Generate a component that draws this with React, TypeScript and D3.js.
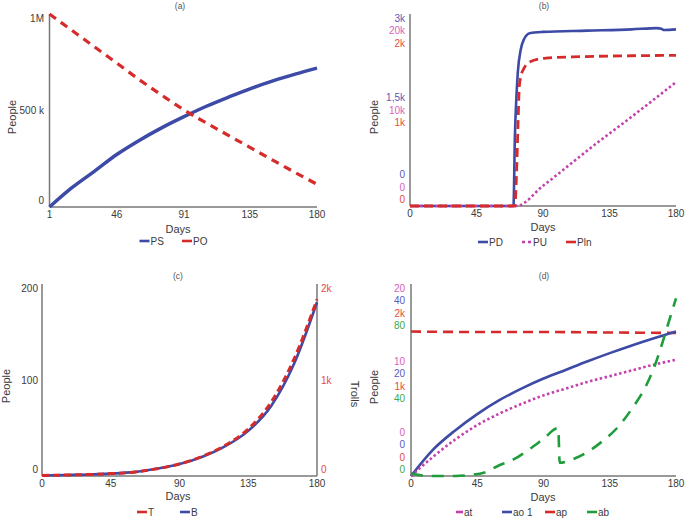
import React from "react";
import * as d3 from "d3";

const FONT = "'Liberation Sans', Arial, sans-serif";
const BLUE = "#3d4aa6";
const RED = "#d62b2b";
const MAG = "#c340ad";
const GRN = "#1f9c3c";
const LBLUE = "#5a5ab8";
const LMAG = "#d563bd";
const LRED = "#e8493c";
const LGRN = "#3ba84c";
const AXIS = "#777";
const TXT = "#3a3a3a";

// ---------- Panel (a) ----------
const aDays = [1, 16, 31, 46, 61, 76, 91, 106, 121, 136, 151, 166, 180];
const aPS = [0, 100000, 185000, 272000, 345000, 410000, 468000, 522000, 570000, 615000, 655000, 690000, 720000];
const aPO = [1000000, 915000, 830000, 746000, 660000, 580000, 503000, 435000, 370000, 305000, 240000, 176000, 118000];
const aXTicks = [1, 46, 91, 135, 180];
const aYTicks = [0, 500000, 1000000];
const aYLabels = ["0", "500 k", "1M"];

// ---------- Panel (b) ----------
const bPDDays = [0, 70, 71, 72, 73, 75, 77, 81, 90, 120, 150, 167, 170, 172, 180];
const bPD = [0, 0, 1100, 1700, 2100, 2450, 2600, 2700, 2720, 2740, 2760, 2780, 2770, 2750, 2760];
const bPUDays = [0, 72, 90, 126, 150, 180];
const bPU = [0, 0, 2100, 6500, 9300, 12900];
const bPlnDays = [0, 71, 72, 73, 74, 75, 77, 81, 92, 115, 150, 180];
const bPln = [0, 0, 300, 800, 1250, 1350, 1430, 1500, 1540, 1555, 1565, 1570];
const bXTicks = [0, 45, 90, 135, 180];
const bPDTicks = [0, 1500, 3000];
const bPUTicks = [0, 10000, 20000];
const bPlnTicks = [0, 1000, 2000];
const bPDLabels = ["0", "1,5k", "3k"];
const bPULabels = ["0", "10k", "20k"];
const bPlnLabels = ["0", "1k", "2k"];

// ---------- Panel (c) ----------
const cDays = [0, 15, 30, 45, 60, 75, 90, 105, 120, 135, 150, 165, 180];
const cB = [0.5, 1, 1.5, 2.5, 4, 7.5, 12.5, 20, 31, 47, 73, 117, 181];
const cT = [5, 10, 15, 25, 40, 75, 125, 205, 320, 490, 770, 1220, 1840];
const cXTicks = [0, 45, 90, 135, 180];
const cLTicks = [0, 100, 200];
const cLLabels = ["0", "100", "200"];
const cRTicks = [0, 1000, 2000];
const cRLabels = ["0", "1k", "2k"];

// ---------- Panel (d) ----------
const dDays = [0, 15, 30, 45, 60, 75, 90, 105, 120, 135, 150, 165, 180];
const dAt = [0, 2.0, 3.8, 5.3, 6.5, 7.5, 8.4, 9.1, 9.8, 10.4, 11.0, 11.6, 12.1];
const dAo1 = [0, 5.5, 9.5, 12.9, 15.8, 18.2, 20.3, 22.1, 23.9, 25.6, 27.2, 28.7, 30.1];
const dApDays = [0, 45, 90, 135, 180];
const dAp = [1505, 1500, 1500, 1495, 1490];
const dAbDays = [0, 5, 10, 20, 30, 40, 50, 60, 70, 80, 90, 100, 101, 110, 120, 130, 140, 150, 160, 165, 170, 175, 180];
const dAb = [1, 0.5, 0, 0, 0, 0.4, 1.5, 4.5, 7, 11, 15.5, 20, 5.5, 7, 10, 14.5, 20, 28, 38, 45, 54, 64, 74];
const dXTicks = [0, 45, 90, 135, 180];
const dAtTicks = [0, 10, 20];
const dAoTicks = [0, 20, 40];
const dApTicks = [0, 1000, 2000];
const dAbTicks = [0, 40, 80];
const dAtLabels = ["0", "10", "20"];
const dAoLabels = ["0", "20", "40"];
const dApLabels = ["0", "1k", "2k"];
const dAbLabels = ["0", "40", "80"];

type Scale = d3.ScaleLinear<number, number>;

function path(xs: number[], ys: number[], x: Scale, y: Scale) {
  return d3
    .line<number>()
    .x((_, i) => x(xs[i]))
    .y((d) => y(d))
    .curve(d3.curveMonotoneX)(ys) || "";
}

const STEP = 12.3;
const TICK_FS = 10;
const LAB_FS = 11;

function StackTicks(props: {
  scales: Scale[];
  ticks: number[][];
  labels: string[][];
  colors: string[];
  x: number;
  anchor: "start" | "end";
  id: string;
}) {
  const { scales, ticks, labels, colors, x, anchor, id } = props;
  const n = scales.length;
  const out: React.ReactNode[] = [];
  for (let lvl = 0; lvl < 3; lvl++) {
    for (let k = 0; k < n; k++) {
      const p = scales[k](ticks[k][lvl]);
      let c: number;
      if (lvl === 0) c = p - 6.5 - (n - 1 - k) * STEP;
      else if (lvl === 2) c = p + 4.5 + k * STEP;
      else c = p + (k - (n - 1) / 2) * STEP;
      out.push(
        <text
          key={`${id}-${lvl}-${k}`}
          x={x}
          y={c}
          dy="0.35em"
          textAnchor={anchor}
          fill={colors[k]}
          fontSize={TICK_FS}
        >
          {labels[k][lvl]}
        </text>
      );
    }
  }
  return <g>{out}</g>;
}

function XTicks({ x, ticks, y0 }: { x: Scale; ticks: number[]; y0: number }) {
  return (
    <g>
      {ticks.map((t) => (
        <text key={t} x={x(t)} y={y0 + 7} dy="0.35em" textAnchor="middle" fill={TXT} fontSize={TICK_FS}>
          {t}
        </text>
      ))}
    </g>
  );
}

type LegItem = { label: string; color: string; x: number; dash?: string; len?: number };

function Legend({ items, y }: { items: LegItem[]; y: number }) {
  return (
    <g>
      {items.map((it) => (
        <g key={it.label}>
          <line
            x1={it.x}
            x2={it.x + (it.len ?? 10)}
            y1={y}
            y2={y}
            stroke={it.color}
            strokeWidth={2.6}
            strokeDasharray={it.dash}
          />
          <text x={it.x + (it.len ?? 10) + 1} y={y} dy="0.35em" fill={TXT} fontSize={TICK_FS}>
            {it.label}
          </text>
        </g>
      ))}
    </g>
  );
}

function VLabel({ x, y, text, rot = -90 }: { x: number; y: number; text: string; rot?: number }) {
  return (
    <text
      transform={`translate(${x},${y}) rotate(${rot})`}
      textAnchor="middle"
      dy="0.35em"
      fill={TXT}
      fontSize={LAB_FS}
    >
      {text}
    </text>
  );
}

function Title({ x, y, text }: { x: number; y: number; text: string }) {
  return (
    <text x={x} y={y} dy="0.35em" textAnchor="middle" fill="#555" fontSize={8.5}>
      {text}
    </text>
  );
}

export default function App() {
  // (a)
  const xa = d3.scaleLinear().domain([1, 180]).range([49.5, 317]);
  const ya = d3.scaleLinear().domain([0, 1000000]).range([207, 14]);
  // (b)
  const xb = d3.scaleLinear().domain([0, 180]).range([410, 676]);
  const ybD = d3.scaleLinear().domain([0, 3000]).range([206, 14]);
  const ybU = d3.scaleLinear().domain([0, 20000]).range([206, 14]);
  const ybI = d3.scaleLinear().domain([0, 2000]).range([206, 14]);
  // (c)
  const xc = d3.scaleLinear().domain([0, 180]).range([42, 317]);
  const ycL = d3.scaleLinear().domain([0, 200]).range([476, 284]);
  const ycR = d3.scaleLinear().domain([0, 2000]).range([476, 284]);
  // (d)
  const xd = d3.scaleLinear().domain([0, 180]).range([411, 676]);
  const ydAt = d3.scaleLinear().domain([0, 20]).range([476, 284]);
  const ydAo = d3.scaleLinear().domain([0, 40]).range([476, 284]);
  const ydAp = d3.scaleLinear().domain([0, 2000]).range([476, 284]);
  const ydAb = d3.scaleLinear().domain([0, 80]).range([476, 284]);

  return (
    <svg
      width={685}
      height={518}
      style={{ position: "absolute", left: 0, top: 0, background: "#fff", fontFamily: FONT }}
    >
      <rect width={685} height={518} fill="#fff" />

      {/* ---------------- (a) ---------------- */}
      <Title x={180} y={6} text="(a)" />
      <line x1={xa(1)} x2={xa(1)} y1={14} y2={207} stroke={AXIS} strokeWidth={1.5} />
      <line x1={xa(1)} x2={xa(180)} y1={207} y2={207} stroke={AXIS} strokeWidth={1.5} />
      <StackTicks id="a" scales={[ya]} ticks={[aYTicks]} labels={[aYLabels]} colors={[TXT]} x={44} anchor="end" />
      <XTicks x={xa} ticks={aXTicks} y0={207} />
      <path d={path(aDays, aPS, xa, ya)} fill="none" stroke={BLUE} strokeWidth={3.5} />
      <path d={path(aDays, aPO, xa, ya)} fill="none" stroke={RED} strokeWidth={3.2} strokeDasharray="8 6" />
      <VLabel x={12} y={117} text="People" />
      <text x={178} y={229} dy="0.35em" textAnchor="middle" fill={TXT} fontSize={LAB_FS}>Days</text>
      <Legend
        y={241}
        items={[
          { label: "PS", color: BLUE, x: 139.5 },
          { label: "PO", color: RED, x: 182 },
        ]}
      />

      {/* ---------------- (b) ---------------- */}
      <Title x={544} y={6} text="(b)" />
      <line x1={410} x2={410} y1={14} y2={206} stroke={AXIS} strokeWidth={1.5} />
      <line x1={410} x2={676} y1={206} y2={206} stroke={AXIS} strokeWidth={1.5} />
      <StackTicks
        id="b"
        scales={[ybD, ybU, ybI]}
        ticks={[bPDTicks, bPUTicks, bPlnTicks]}
        labels={[bPDLabels, bPULabels, bPlnLabels]}
        colors={[LBLUE, LMAG, LRED]}
        x={405}
        anchor="end"
      />
      <XTicks x={xb} ticks={bXTicks} y0={206} />
      <path d={path(bPDDays, bPD, xb, ybD)} fill="none" stroke={BLUE} strokeWidth={2.6} />
      <path d={path(bPUDays, bPU, xb, ybU)} fill="none" stroke={MAG} strokeWidth={2.6} strokeDasharray="2.5 2.5" />
      <path d={path(bPlnDays, bPln, xb, ybI)} fill="none" stroke={RED} strokeWidth={2.8} strokeDasharray="9 5" />
      <VLabel x={374} y={117} text="People" />
      <text x={543} y={227} dy="0.35em" textAnchor="middle" fill={TXT} fontSize={LAB_FS}>Days</text>
      <Legend
        y={242}
        items={[
          { label: "PD", color: BLUE, x: 478 },
          { label: "PU", color: MAG, x: 522, dash: "3 3" },
          { label: "Pln", color: RED, x: 566 },
        ]}
      />

      {/* ---------------- (c) ---------------- */}
      <Title x={178} y={276} text="(c)" />
      <line x1={42} x2={42} y1={284} y2={476} stroke={AXIS} strokeWidth={1.5} />
      <line x1={317} x2={317} y1={284} y2={476} stroke={AXIS} strokeWidth={1.5} />
      <line x1={42} x2={317} y1={476} y2={476} stroke={AXIS} strokeWidth={1.5} />
      <StackTicks id="cl" scales={[ycL]} ticks={[cLTicks]} labels={[cLLabels]} colors={[TXT]} x={38} anchor="end" />
      <StackTicks id="cr" scales={[ycR]} ticks={[cRTicks]} labels={[cRLabels]} colors={[LRED]} x={321} anchor="start" />
      <XTicks x={xc} ticks={cXTicks} y0={476} />
      <path d={path(cDays, cB, xc, ycL)} fill="none" stroke={BLUE} strokeWidth={2.6} />
      <path d={path(cDays, cT, xc, ycR)} fill="none" stroke={RED} strokeWidth={3} strokeDasharray="7 4" />
      <VLabel x={6} y={386} text="People" />
      <VLabel x={355} y={394} text="Trolls" rot={90} />
      <text x={178} y={496} dy="0.35em" textAnchor="middle" fill={TXT} fontSize={LAB_FS}>Days</text>
      <Legend
        y={512}
        items={[
          { label: "T", color: RED, x: 137 },
          { label: "B", color: BLUE, x: 180 },
        ]}
      />

      {/* ---------------- (d) ---------------- */}
      <Title x={544} y={276} text="(d)" />
      <line x1={411} x2={411} y1={284} y2={476} stroke={AXIS} strokeWidth={1.5} />
      <line x1={411} x2={676} y1={476} y2={476} stroke={AXIS} strokeWidth={1.5} />
      <StackTicks
        id="d"
        scales={[ydAt, ydAo, ydAp, ydAb]}
        ticks={[dAtTicks, dAoTicks, dApTicks, dAbTicks]}
        labels={[dAtLabels, dAoLabels, dApLabels, dAbLabels]}
        colors={[LMAG, LBLUE, LRED, LGRN]}
        x={405}
        anchor="end"
      />
      <XTicks x={xd} ticks={dXTicks} y0={476} />
      <path d={path(dApDays, dAp, xd, ydAp)} fill="none" stroke={RED} strokeWidth={2.6} strokeDasharray="10 6" />
      <path d={path(dDays, dAo1, xd, ydAo)} fill="none" stroke={BLUE} strokeWidth={2.6} />
      <path d={path(dDays, dAt, xd, ydAt)} fill="none" stroke={MAG} strokeWidth={2.6} strokeDasharray="2.5 2.5" />
      <path d={path(dAbDays, dAb, xd, ydAb)} fill="none" stroke={GRN} strokeWidth={2.6} strokeDasharray="12 9" />
      <VLabel x={374} y={387} text="People" />
      <text x={543} y={497} dy="0.35em" textAnchor="middle" fill={TXT} fontSize={LAB_FS}>Days</text>
      <Legend
        y={512}
        items={[
          { label: "at", color: MAG, x: 456, len: 7 },
          { label: "ao 1", color: BLUE, x: 502 },
          { label: "ap", color: RED, x: 545 },
          { label: "ab", color: GRN, x: 587 },
        ]}
      />
    </svg>
  );
}
